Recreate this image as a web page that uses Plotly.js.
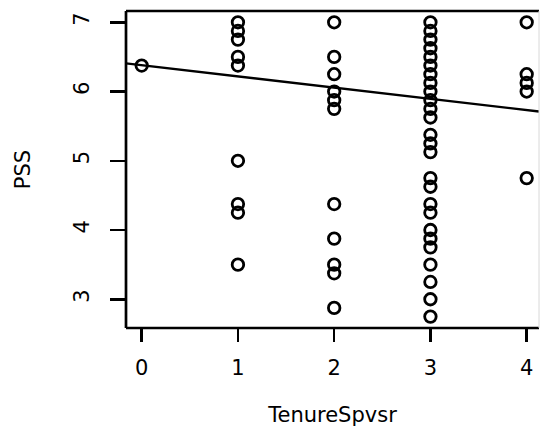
<!DOCTYPE html>
<html>
<head>
<meta charset="utf-8">
<script src="https://cdn.plot.ly/plotly-3.0.1.min.js"></script>
<style>html,body{margin:0;padding:0;background:#fff;}#chart{width:541px;height:427px;}</style>
</head>
<body>
<div id="chart"></div>
<script>
// Observed data (TenureSpvsr vs PSS)
const tenure0 = [0];
const pss0 = [6.375];
const tenure1 = [1, 1, 1, 1, 1, 1, 1, 1, 1];
const pss1 = [7, 6.875, 6.75, 6.5, 6.375, 5.0, 4.375, 4.25, 3.5];
const tenure2 = [2, 2, 2, 2, 2, 2, 2, 2, 2, 2, 2];
const pss2 = [7, 6.5, 6.25, 6.0, 5.875, 5.75, 4.375, 3.875, 3.5, 3.375, 2.875];
const tenure3 = [3, 3, 3, 3, 3, 3, 3, 3, 3, 3, 3, 3, 3, 3, 3, 3, 3, 3, 3, 3, 3, 3, 3, 3, 3, 3];
const pss3 = [7, 6.875, 6.75, 6.625, 6.5, 6.375, 6.25, 6.125, 6.0, 5.875, 5.75, 5.625,
              5.375, 5.25, 5.125, 4.75, 4.625, 4.375, 4.25, 4.0, 3.875, 3.75, 3.5, 3.25, 3.0, 2.75];
const tenure4 = [4, 4, 4, 4, 4];
const pss4 = [7, 6.25, 6.125, 6.0, 4.75];

// Fitted regression line
const fitIntercept = 6.38;
const fitSlope = -0.162;

const xTicks = [0, 1, 2, 3, 4];
const yTicks = [3, 4, 5, 6, 7];
const xRange = [-0.163, 4.128];
const yRange = [2.585, 7.163];

const xs = [].concat(tenure0, tenure1, tenure2, tenure3, tenure4);
const ys = [].concat(pss0, pss1, pss2, pss3, pss4);

const font = {family: 'DejaVu Sans, sans-serif', size: 21, color: '#000'};

const traces = [
  {
    type: 'scatter', mode: 'markers', x: xs, y: ys,
    marker: {symbol: 'circle-open', size: 11.5, color: '#000', line: {width: 2.8, color: '#000'}},
    hoverinfo: 'skip', cliponaxis: false
  },
  {
    type: 'scatter', mode: 'lines',
    x: xRange, y: xRange.map(v => fitIntercept + fitSlope * v),
    line: {color: '#000', width: 2.4}, hoverinfo: 'skip'
  }
];

const layout = {
  width: 541, height: 427,
  margin: {l: 126, r: 2, t: 11, b: 99, pad: 0},
  paper_bgcolor: '#fff', plot_bgcolor: '#fff',
  showlegend: false,
  font: font,
  xaxis: {
    range: xRange, tickvals: xTicks, ticktext: xTicks.map(String),
    showgrid: false, zeroline: false, showline: false,
    ticks: 'outside', ticklen: 13, tickwidth: 2.5, tickcolor: '#000',
    ticklabelstandoff: 8,
    tickfont: font,
    title: {text: 'TenureSpvsr', font: font, standoff: 28}
  },
  yaxis: {
    range: yRange, tickvals: yTicks, ticktext: yTicks.map(String),
    showgrid: false, zeroline: false, showline: false,
    ticks: 'outside', ticklen: 15, tickwidth: 2.5, tickcolor: '#000',
    tickangle: -90, ticklabelstandoff: 13,
    tickfont: font,
    title: {text: 'PSS', font: font, standoff: 33}
  },
  shapes: [
    {type: 'line', xref: 'paper', yref: 'paper', x0: 0, x1: 0, y0: 0, y1: 1, line: {color: '#000', width: 2.7}},
    {type: 'line', xref: 'paper', yref: 'paper', x0: 0, x1: 1, y0: 1, y1: 1, line: {color: '#000', width: 2.7}},
    {type: 'line', xref: 'paper', yref: 'paper', x0: 0, x1: 1, y0: 0, y1: 0, line: {color: '#000', width: 2.7}},
    {type: 'line', xref: 'paper', yref: 'paper', x0: 1, x1: 1, y0: 0, y1: 1, line: {color: '#d8d8d8', width: 1}}
  ]
};

Plotly.newPlot('chart', traces, layout, {staticPlot: true, displayModeBar: false});
</script>
</body>
</html>
